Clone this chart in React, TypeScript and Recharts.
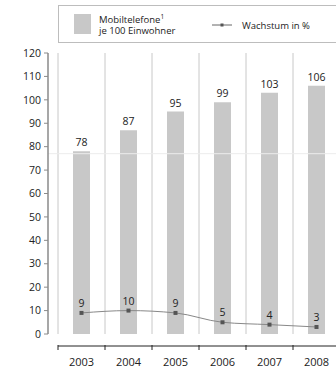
import { ComposedChart, Bar, Line, XAxis, YAxis, CartesianGrid, LabelList, ReferenceLine } from 'recharts';

const years = ['2003', '2004', '2005', '2006', '2007', '2008'];
const phonesPer100 = [78, 87, 95, 99, 103, 106];
const growthPercent = [9, 10, 9, 5, 4, 3];
const yTicks = [0, 10, 20, 30, 40, 50, 60, 70, 80, 90, 100, 110, 120];
const guideValue = 77;

const data = years.map((year, i) => ({
  year,
  phones: phonesPer100[i],
  growth: growthPercent[i],
}));

const CHART_W = 345;
const CHART_H = 371;
const MARGIN = { top: 53, right: 5, bottom: 0, left: 8 };
const Y_AXIS_W = 40;
const PAD_LEFT = 10;
const PLOT_W = CHART_W - MARGIN.left - MARGIN.right - Y_AXIS_W;
const BAND = (PLOT_W - PAD_LEFT) / years.length;

const BAR_GREY = '#c8c8c8';
const TEXT = '#222';
const FONT = "'Open Sans', sans-serif";

// category boundaries instead of category centres
const bandEdges = ({ offset }: any) => {
  const left = offset.left + PAD_LEFT;
  const w = (offset.width - PAD_LEFT) / years.length;
  return Array.from({ length: years.length + 1 }, (_, i) => left + i * w);
};

function YearTick(props: any) {
  const { x, y, payload } = props;
  const half = BAND / 2;
  const axisY = y + 12;
  return (
    <g>
      <line x1={x - half} x2={x + half} y1={axisY} y2={axisY} stroke={TEXT} strokeWidth={1} />
      <line x1={x - half} x2={x - half} y1={axisY - 1} y2={axisY + 4} stroke={TEXT} strokeWidth={1} />
      <text x={x} y={y + 32} textAnchor="middle" fontSize={11} fill={TEXT} fontFamily={FONT}>
        {payload.value}
      </text>
    </g>
  );
}

function SquareDot(props: any) {
  const { cx, cy, index } = props;
  if (cx == null || cy == null) return null;
  return <rect key={`dot-${index}`} x={cx - 2} y={cy - 2} width={4} height={4} fill="#555" />;
}

function LegendBox() {
  return (
    <svg width={336} height={48} style={{ position: 'absolute', left: 0, top: 0 }}>
      <rect x={58.5} y={5.5} width={300} height={37} fill="#fff" stroke="#bdbdbd" strokeWidth={1} />
      <rect x={74} y={14} width={17} height={20} fill={BAR_GREY} />
      <text x={99} y={23} fontSize={9.5} fill={TEXT} fontFamily={FONT}>
        Mobiltelefone
        <tspan fontSize={6.5} dy={-4}>1</tspan>
      </text>
      <text x={99} y={33.5} fontSize={9.5} fill={TEXT} fontFamily={FONT}>je 100 Einwohner</text>
      <line x1={212} x2={232} y1={25} y2={25} stroke="#666" strokeWidth={1} />
      <rect x={220.5} y={23.5} width={3} height={3} fill="#555" />
      <text x={242} y={29} fontSize={9.5} fill={TEXT} fontFamily={FONT}>Wachstum in %</text>
    </svg>
  );
}

export default function App() {
  return (
    <div
      style={{
        position: 'absolute',
        left: 0,
        top: 0,
        width: 336,
        height: CHART_H,
        overflow: 'hidden',
        background: '#fff',
        fontFamily: FONT,
      }}
    >
      <ComposedChart width={CHART_W} height={CHART_H} data={data} margin={MARGIN}>
        <CartesianGrid
          horizontal={false}
          stroke={BAR_GREY}
          verticalCoordinatesGenerator={bandEdges}
        />
        <XAxis
          dataKey="year"
          height={37}
          padding={{ left: PAD_LEFT, right: 0 }}
          axisLine={false}
          tickLine={false}
          tickSize={0}
          tickMargin={0}
          interval={0}
          tick={<YearTick />}
        />
        <YAxis
          width={Y_AXIS_W}
          domain={[0, 120]}
          ticks={yTicks}
          interval={0}
          axisLine={{ stroke: '#8a8a8a', strokeWidth: 1.5 }}
          tickLine={{ stroke: '#8a8a8a' }}
          tickSize={4}
          tickMargin={3}
          tick={{ fontSize: 10.5, fill: TEXT, fontFamily: FONT }}
        />
        <Bar dataKey="phones" fill={BAR_GREY} barSize={17} isAnimationActive={false}>
          <LabelList dataKey="phones" position="top" offset={5} fontSize={10.5} fill={TEXT} />
        </Bar>
        <ReferenceLine y={guideValue} stroke="#ececec" strokeWidth={1} />
        <Line
          type="monotone"
          dataKey="growth"
          stroke="#888"
          strokeWidth={1}
          dot={<SquareDot />}
          activeDot={false}
          isAnimationActive={false}
        >
          <LabelList dataKey="growth" position="top" offset={6} fontSize={10.5} fill={TEXT} />
        </Line>
      </ComposedChart>
      <LegendBox />
    </div>
  );
}
